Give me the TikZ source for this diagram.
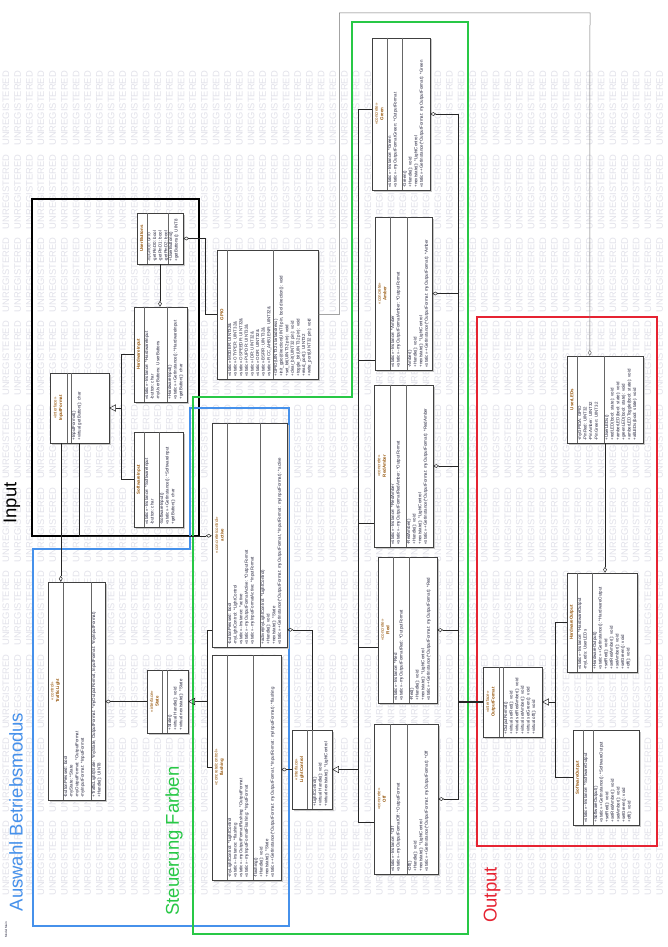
\documentclass[tikz,border=0pt]{standalone}
\usepackage{fontspec}
\setmainfont{Liberation Sans}
\usetikzlibrary{arrows.meta,fit,shadows}

\definecolor{clsname}{RGB}{150,85,10}
\definecolor{clstext}{RGB}{35,35,60}
\definecolor{wmark}{RGB}{226,226,234}
\definecolor{inblue}{RGB}{70,145,235}
\definecolor{ctlgreen}{RGB}{40,200,70}
\definecolor{outred}{RGB}{230,35,50}

\tikzset{
  umlbox/.style={draw=black!75, fill=white, inner sep=0pt, line width=0.5pt,
    drop shadow={shadow xshift=1.5pt, shadow yshift=-1.5pt, fill=black!22, opacity=1}},
  umlsep/.style={draw=black!60, line width=0.4pt},
  umltitle/.style={rotate=90, align=center, inner sep=0.5pt, text=clsname, font=\fontsize{4.4}{5.4}\selectfont},
  umltext/.style={rotate=90, anchor=north west, align=left, inner sep=1pt, text=clstext, font=\fontsize{4.4}{5.6}\selectfont},
  link/.style={draw=black!85, line width=0.5pt},
  aggr/.style={link, -{Diamond[open, length=6pt, width=3.6pt]}},
  gen/.style={link, -{Triangle[open, length=6.5pt, width=7pt]}},
  region/.style={line width=1.6pt},
  regionlabel/.style={rotate=90, inner sep=0pt, font=\fontsize{18.5}{20}\selectfont},
  watermark/.style={rotate=90, text=wmark, inner sep=0pt, font=\fontsize{9.4}{10}\selectfont},
}

% class box: name, corner, corner, separators, title, attributes, operations
\newcommand{\umlclass}[8]{%
  \node[umlbox, fit={(#2) (#3)}] (#1) {};
  \draw[umlsep] ([xshift=#4]#1.north west) -- ([xshift=#4]#1.south west);
  \draw[umlsep] ([xshift=#5]#1.north west) -- ([xshift=#5]#1.south west);
  \node[umltitle] at ([xshift=#4/2]#1.west) {#6};
  \node[umltext] at ([xshift=#4, yshift=1.5]#1.south west) {#7};
  \node[umltext] at ([xshift=#5, yshift=1.5]#1.south west) {#8};
}

\begin{document}
\begin{tikzpicture}[x=1pt, y=-1pt]
\useasboundingbox[fill=white] (0,0) rectangle (667,947);

% watermark
\foreach \col in {0,...,56}
  \foreach \row in {1,...,10}
    \node[watermark] at ({6+11.67*\col}, {25+83.33*\row}) {UNREGISTERED};

% regions
\draw[region, black, line width=2pt] (32,199) rectangle (199,536);
\draw[region, inblue] (33,549) -- (190,549) -- (190,408) -- (289,408) -- (289,926) -- (33,926) -- cycle;
\draw[region, ctlgreen] (193,397) -- (352,397) -- (352,22) -- (468,22) -- (468,934) -- (193,934) -- cycle;
\draw[region, outred] (477,317) rectangle (657,846);

% input
\umlclass{ubtn}{137,213}{183,264}{10}{31}{\textbf{UserButtons}}
  {\fontsize{3.6}{4.3}\selectfont -myGPIOD: GPIO\\-getPinD0: bool\\-getPinD1: bool\\-getPinD2: bool}
  {+UserButtons()\\+getButtons(): UINT8}
\umlclass{hwin}{134,307}{187,402}{10}{33}{\textbf{HardwareInput}}
  {«static» -Instance: *HardwareInput\\-button: char\\-myUserButtons: UserButtons}
  {+HardwareInput()\\«static» +GetInstance(): *HardwareInput\\+getButton(): char}
\umlclass{swin}{134,432}{183,527}{10}{25}{\textbf{SoftwareInput}}
  {«static» -Instance: *SoftwareInput\\-button: char}
  {-SoftwareInput()\\«static» +GetInstance(): *SoftwareInput\\+getButton(): char}
\umlclass{infmt}{50,373}{109,443}{17}{21}{«interface»\\\textbf{InputFormat}}
  {}
  {+InputFormat()\\+virtual getButton(): char}
\umlclass{gpio}{217,250}{318,379}{10}{56}{\textbf{GPIO}}
  {«static» MODER: UINT32\&\\«static» OTYPER: UINT32\&\\«static» OSPEEDR: UINT32\&\\«static» PUPDR: UINT32\&\\«static» IDR: UINT32\&\\«static» ODR: UINT32\&\\«static» BSRR: UINT32\&\\«static» RCC\_AHB1ENR: UINT32\&}
  {+GPIO(UINT32 startaddress)\\+init\_gpio(direction(UINT8 pin, bool direction)): void\\+set\_bit(UINT32 pin): void\\+clear\_bit(UINT32 pin): void\\+toggle\_bit(UINT32 pin): void\\+read\_port(): UINT32\\+write\_port(UINT32 pin): void}

% mode selection
\umlclass{tl}{48,582}{105,800}{15}{43}{«control»\\\textbf{TrafficLight}}
  {-buttonPressed: bool\\-myState: *State\\-myOutputFormat: *OutputFormat\\-myInputFormat: *InputFormat}
  {+TrafficLight(State: *myState, OutputFormat: *myOutputFormat, InputFormat: *myInputFormat)\\+Handle(): UINT8}
\umlclass{state}{147,670}{188,733}{15}{20}{«interface»\\\textbf{State}}
  {}
  {+State()\\+virtual Handle(): void\\+virtual nextstate(): *State}
\umlclass{act}{212,423}{287,647}{15}{48}{«concrete/control»\\\textbf{active}}
  {-buttonPressed: bool\\-myLightControl: *LightControl\\«static» -Instance: *active\\«static» -myOutputFormatActive: *OutputFormat\\«static» -myInputFormatActive: *InputFormat}
  {+active(myLightControl: *LightControl)\\+Handle(): void\\+nextstate(): *State\\«static» +GetInstance(*OutputFormat: myOutputFormat, *InputFormat: myInputFormat): *active}
\umlclass{flash}{212,655}{281,880}{15}{41}{«concrete/control»\\\textbf{flashing}}
  {-myLightControl: *LightControl\\«static» -Instance: *flashing\\«static» -myOutputFormatFlashing: *OutputFormat\\«static» -myInputFormatFlashing: *InputFormat}
  {-flashing()\\+Handle(): void\\+nextstate(): *State\\«static» +GetInstance(*OutputFormat: myOutputFormat, *InputFormat: myInputFormat): *flashing}

% colours
\umlclass{lc}{292,730}{332,809}{15}{20}{«interface»\\\textbf{LightControl}}
  {}
  {+LightControl()\\+virtual Handle(): void\\+virtual nextstate(): *LightControl}
\umlclass{lgreen}{372,38}{430,190}{15}{30}{«concrete»\\\textbf{Green}}
  {«static» -Instance: *Green\\«static» -myOutputFormatGreen: *OutputFormat}
  {-Green()\\+Handle(): void\\+nextstate(): *LightControl\\«static» +GetInstance(*OutputFormat: myOutputFormat): *Green}
\umlclass{lamber}{375,217}{432,370}{15}{32}{«concrete»\\\textbf{Amber}}
  {«static» -Instance: *Amber\\«static» -myOutputFormatAmber: *OutputFormat}
  {-Amber()\\+Handle(): void\\+nextstate(): *LightControl\\«static» +GetInstance(*OutputFormat: myOutputFormat): *Amber}
\umlclass{lredamber}{374,385}{433,547}{16}{32}{«concrete»\\\textbf{RedAmber}}
  {«static» -Instance: *RedAmber\\«static» -myOutputFormatRedAmber: *OutputFormat}
  {-RedAmber()\\+Handle(): void\\+nextstate(): *LightControl\\«static» +GetInstance(*OutputFormat: myOutputFormat): *RedAmber}
\umlclass{lred}{378,557}{437,703}{15}{31}{«concrete»\\\textbf{Red}}
  {«static» -Instance: *Red\\«static» -myOutputFormatRed: *OutputFormat}
  {-Red()\\+Handle(): void\\+nextstate(): *LightControl\\«static» +GetInstance(*OutputFormat: myOutputFormat): *Red}
\umlclass{loff}{374,724}{438,874}{16}{33}{«concrete»\\\textbf{Off}}
  {«static» -Instance: *Off\\«static» -myOutputFormatOff: *OutputFormat}
  {-Off()\\+Handle(): void\\+nextstate(): *LightControl\\«static» +GetInstance(*OutputFormat: myOutputFormat): *Off}

% output
\umlclass{ofmt}{483,667}{542,737}{16}{20}{«interface»\\\textbf{OutputFormat}}
  {}
  {+OutputFormat()\\+virtual setRed(): void\\+virtual setRedAmber(): void\\+virtual setAmber(): void\\+virtual setGreen(): void\\+virtual off(): void}
\umlclass{leds}{567,356}{643,443}{10}{37}{\textbf{UserLEDs}}
  {-myGPIOA: GPIO\\-PinRed: UINT32\\-PinAmber: UINT32\\-PinGreen: UINT32}
  {+UserLEDs()\\+redLED(bool: state): void\\+amberLED(bool: state): void\\+greenLED(bool: state): void\\+amberLEDToggle(bool: state): void\\+allLEDs(bool: state): void}
\umlclass{hwout}{567,573}{637,672}{10}{25}{\textbf{HardwareOutput}}
  {«static» -Instance: *HardwareOutput\\-myLeds: UserLEDs}
  {+HardwareOutput()\\«static» +GetInstance(): *HardwareOutput\\+setRed(): void\\+setRedAmber(): void\\+setAmber(): void\\+setGreen(): void\\+off(): void}
\umlclass{swout}{573,730}{639,825}{10}{20}{\textbf{SoftwareOutput}}
  {«static» -Instance: *SoftwareOutput}
  {+SoftwareOutput()\\«static» +GetInstance(): *SoftwareOutput\\+setRed(): void\\+setRedAmber(): void\\+setAmber(): void\\+setGreen(): void\\+off(): void}

% connectors input
\draw[aggr] (ubtn.south) -- (ubtn.south |- hwin.north);
\draw[aggr] (gpio.west) -- ++(-12,0) |- (ubtn.east);
\coordinate (injoin) at (121,408);
\draw[link] (hwin.west) -| (injoin);
\draw[link] (swin.west) -| (injoin);
\draw[gen] (injoin) -- (infmt.east);
\draw[aggr] ([xshift=11]infmt.south west) -- ([xshift=13]tl.north west);
\draw[aggr] ([xshift=29]infmt.south west) |- ([yshift=-113]act.north west);

% connectors states
\draw[aggr] (state.west) -- (state.west -| tl.east);
\coordinate (stjoin) at (207,701.5);
\draw[link] ([yshift=-207]act.north west) -| (stjoin);
\draw[link] (flash.west) -| (stjoin);
\draw[gen] (stjoin) -- (state.east);
\draw[aggr] (lc.north) |- ([yshift=-207]act.north east);
\draw[aggr] (lc.west) -- (lc.west -| flash.east);

% connectors colours
\coordinate (lcjoin) at (358,769.5);
\draw[link] ([yshift=-72]lgreen.north west) -| (lcjoin);
\draw[link] ([yshift=10]lamber.south west) -| (lcjoin);
\draw[link] ([yshift=24]lredamber.south west) -| (lcjoin);
\draw[link] ([yshift=56]lred.south west) -| (lcjoin);
\draw[link] ([yshift=52]loff.south west) -| (lcjoin);
\draw[gen] (lcjoin) -- (lc.east);

% connectors output
\coordinate (ofjoin) at (458,702);
\foreach \lamp in {lgreen,lamber,lredamber,lred,loff}
  \draw[aggr] (ofjoin) |- (\lamp.east);
\draw[link, line width=1.3pt] (ofjoin) -- (ofmt.west);
\coordinate (outjoin) at (555,702);
\draw[link] (hwout.west) -| (outjoin);
\draw[link] (swout.west) -| (outjoin);
\draw[gen] (outjoin) -- (ofmt.east);
\draw[aggr] (leds.south) -- (leds.south |- hwout.north);
\coordinate (ledtop) at (590,13);
\draw[aggr, draw=black!55] (gpio.east) -- ++(21,0) |- (ledtop) -- ([xshift=23]leds.north west);

% labels
\node[regionlabel] (inputlabel) at (12,503) {Input};
\node[regionlabel, text=inblue] (modelabel) at (16,812) {Auswahl Betriebsmodus};
\node[regionlabel, text=ctlgreen] (colourlabel) at (174,841) {Steuerung Farben};
\node[regionlabel, text=outred] (outputlabel) at (492,895) {Output};
\node[rotate=90, text=clstext, inner sep=0pt, font=\fontsize{3}{3.5}\selectfont] (modelname) at (6,930) {Model Main};
\end{tikzpicture}
\end{document}
